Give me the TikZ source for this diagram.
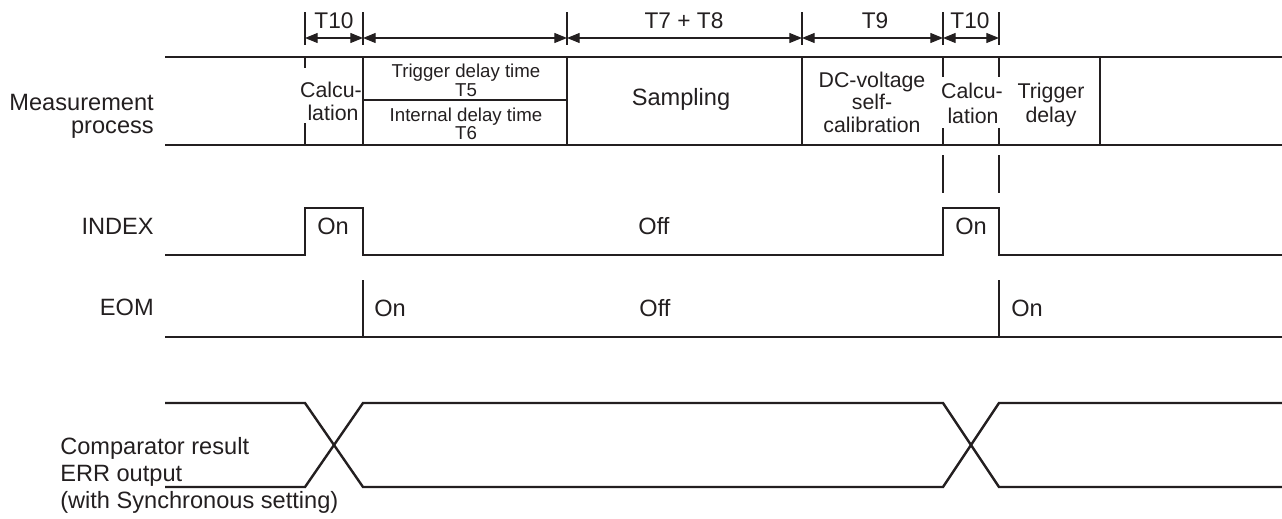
\documentclass[tikz,border=0pt]{standalone}
\usepackage{fontspec}
\setmainfont{Liberation Sans}
\usetikzlibrary{arrows.meta}
\definecolor{ink}{RGB}{35,31,32}
\begin{document}
\begin{tikzpicture}[x=0.75pt,y=-0.75pt,
  sig/.style={draw=ink,line width=1.8pt},
  hair/.style={draw=ink,line width=0.85pt},
  dimarrow/.style={hair,{Triangle[length=9.5pt,width=7.5pt]}-{Triangle[length=9.5pt,width=7.5pt]}},
  lbl/.style={text=ink,inner sep=0pt,font=\fontsize{17.7}{20}\selectfont},
  boxlbl/.style={text=ink,inner sep=0pt,font=\fontsize{16}{18}\selectfont},
  smalllbl/.style={text=ink,inner sep=0pt,font=\fontsize{14}{16}\selectfont},
  toplbl/.style={text=ink,inner sep=0pt,font=\fontsize{17}{19}\selectfont}]
  \useasboundingbox (0,0) rectangle (1282,518);
  % time marks and spans
  \coordinate (m1) at (305,38);
  \coordinate (m2) at (363,38);
  \coordinate (m3) at (567,38);
  \coordinate (m4) at (802,38);
  \coordinate (m5) at (943,38);
  \coordinate (m6) at (999,38);
  \draw[hair] (305,12) -- (305,45);
  \draw[hair] (363,12) -- (363,45);
  \draw[hair] (567,12) -- (567,45);
  \draw[hair] (802,12) -- (802,45);
  \draw[hair] (943,12) -- (943,45);
  \draw[hair] (999,12) -- (999,45);
  \draw[dimarrow] (m1) -- (m2);
  \draw[dimarrow] (m2) -- (m3);
  \draw[dimarrow] (m3) -- (m4);
  \draw[dimarrow] (m4) -- (m5);
  \draw[dimarrow] (m5) -- (m6);
  \node[toplbl,anchor=base] (tten) at (334,28) {T10};
  \node[toplbl,anchor=base] (tsamp) at (684,28) {T7 + T8};
  \node[toplbl,anchor=base] (tcal) at (875,28) {T9};
  \node[toplbl,anchor=base] (ttenb) at (970,28) {T10};
  % measurement process
  \draw[sig] (165,57) -- (1282,57);
  \draw[sig] (165,145) -- (1282,145);
  \draw[sig] (305,57) -- (305,68);
  \draw[sig] (305,123) -- (305,145);
  \draw[sig] (363,57) -- (363,145);
  \draw[sig] (363,100) -- (567,100);
  \draw[sig] (567,57) -- (567,145);
  \draw[sig] (802,57) -- (802,145);
  \draw[sig] (943,57) -- (943,77);
  \draw[sig] (943,128) -- (943,145);
  \draw[sig] (999,57) -- (999,77);
  \draw[sig] (999,128) -- (999,145);
  \draw[sig] (1100,57) -- (1100,145);
  \node[lbl,anchor=base east] (meas) at (154,110) {Measurement};
  \node[lbl,anchor=base east] (proc) at (154,133) {process};
  \node[boxlbl,anchor=base] (calca) at (331,97) {Calcu-};
  \node[boxlbl,anchor=base] (latia) at (333,120) {lation};
  \node[smalllbl,anchor=base] (trigt) at (466,77) {Trigger delay time};
  \node[smalllbl,anchor=base] (tfive) at (466,96) {T5};
  \node[smalllbl,anchor=base] (intd) at (466,121) {Internal delay time};
  \node[smalllbl,anchor=base] (tsix) at (466,139) {T6};
  \node[lbl,anchor=base] (samp) at (681,105) {Sampling};
  \node[boxlbl,anchor=base] (dcv) at (872,87) {DC-voltage};
  \node[boxlbl,anchor=base] (self) at (872,109) {self-};
  \node[boxlbl,anchor=base] (calib) at (872,132) {calibration};
  \node[boxlbl,anchor=base] (calcb) at (972,98) {Calcu-};
  \node[boxlbl,anchor=base] (latib) at (973,123) {lation};
  \node[boxlbl,anchor=base] (trig) at (1051,98) {Trigger};
  \node[boxlbl,anchor=base] (dly) at (1051,122) {delay};
  \draw[hair] (943,155) -- (943,193);
  \draw[hair] (999,155) -- (999,193);
  % INDEX
  \draw[sig] (165,255) -- (305,255) -- (305,208) -- (363,208) -- (363,255)
    -- (943,255) -- (943,208) -- (999,208) -- (999,255) -- (1282,255);
  \node[lbl,anchor=base east] (idx) at (154,234) {INDEX};
  \node[lbl,anchor=base] (idxon) at (333,234) {On};
  \node[lbl,anchor=base] (idxoff) at (654,234) {Off};
  \node[lbl,anchor=base] (idxonb) at (971,234) {On};
  % EOM
  \draw[sig] (165,337) -- (1282,337);
  \draw[sig] (363,280) -- (363,337);
  \draw[sig] (999,280) -- (999,337);
  \node[lbl,anchor=base east] (eom) at (154,315) {EOM};
  \node[lbl,anchor=base west] (eomon) at (374,316) {On};
  \node[lbl,anchor=base] (eomoff) at (655,316) {Off};
  \node[lbl,anchor=base west] (eomonb) at (1011,316) {On};
  % comparator result
  \draw[sig] (165,403) -- (305,403) -- (363,487) -- (943,487) -- (999,403) -- (1282,403);
  \draw[sig] (165,487) -- (305,487) -- (363,403) -- (943,403) -- (999,487) -- (1282,487);
  \node[lbl,anchor=base west] (cmpa) at (60,454) {Comparator result};
  \node[lbl,anchor=base west] (cmpb) at (60,481) {ERR output};
  \node[lbl,anchor=base west] (cmpc) at (60,508) {(with Synchronous setting)};
\end{tikzpicture}
\end{document}
